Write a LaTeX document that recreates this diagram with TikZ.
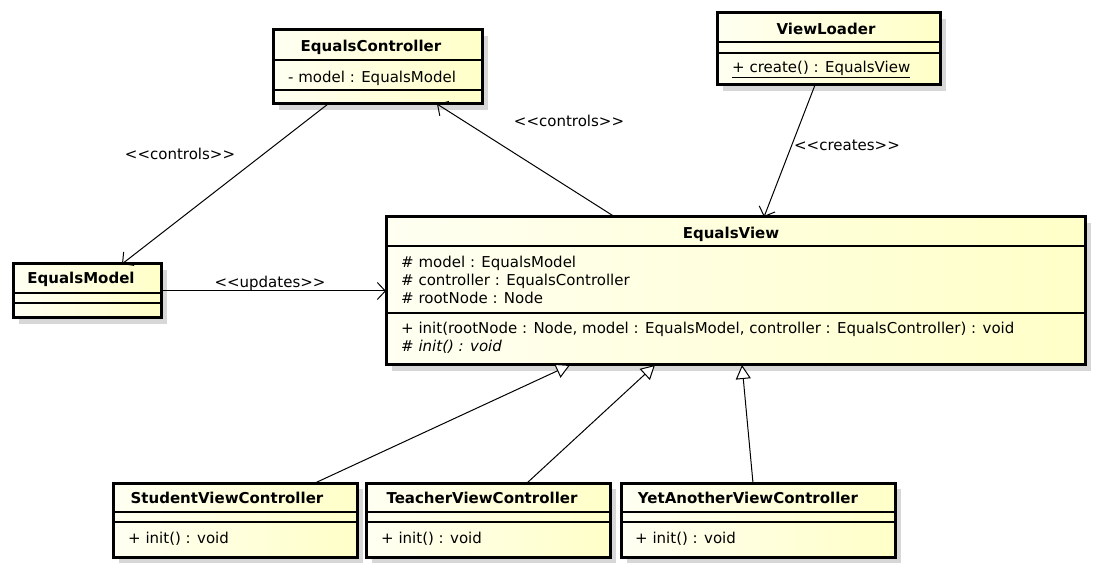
\documentclass[tikz,border=0pt]{standalone}
\usepackage{fontspec}
\newfontfamily\dvs{DejaVu Sans}
\usetikzlibrary{arrows.meta,shadows,calc}
\definecolor{umlyellow}{RGB}{255,255,200}
\definecolor{umllight}{RGB}{255,255,242}
\definecolor{shadowgray}{RGB}{215,215,215}
\begin{document}
\begin{tikzpicture}[x=1pt,y=-1pt,
  cls/.style={draw, line width=3pt, outer sep=0pt, inner sep=0pt, anchor=north west,
    left color=umllight, right color=umlyellow,
    general shadow={fill=shadowgray, shadow xshift=6pt, shadow yshift=-6pt}},
  sep/.style={line width=1.2pt},
  ttl/.style={font=\dvs\fontsize{15}{18}\selectfont\bfseries, inner sep=0pt, anchor=base},
  mem/.style={font=\dvs\fontsize{15}{18}\selectfont, inner sep=0pt, anchor=base west},
  lbl/.style={font=\dvs\fontsize{15}{18}\selectfont, inner sep=0pt, anchor=base},
  dep/.style={line width=1pt, -{Straight Barb[length=8pt, width=17pt]}},
  gen/.style={line width=1pt, -{Triangle[open, length=14pt, width=15pt, fill=white]}}
]
\useasboundingbox (0,0) rectangle (1098,569);

% EqualsController
\node[cls, minimum width=209pt, minimum height=74pt] (ec) at (273,30) {};
\draw[sep] (273,60) -- (482,60);
\draw[sep] (273,90) -- (482,90);
\node[ttl] (ect) at (371,52) {EqualsController};
\node[mem] (eca) at (288,83) {- model : EqualsModel};

% ViewLoader
\node[cls, minimum width=223pt, minimum height=72pt] (vl) at (717,13) {};
\draw[sep] (717,42) -- (940,42);
\draw[sep] (717,53) -- (940,53);
\node[ttl] (vlt) at (826,35) {ViewLoader};
\node[mem] (vlm) at (732,73) {\underline{+ create() : EqualsView}};

% EqualsModel
\node[cls, minimum width=148pt, minimum height=54pt] (em) at (13,264) {};
\draw[sep] (13,293) -- (161,293);
\draw[sep] (13,303) -- (161,303);
\node[ttl] (emt) at (81,284) {EqualsModel};

% EqualsView
\node[cls, minimum width=699pt, minimum height=148pt] (ev) at (386,217) {};
\draw[sep] (386,246) -- (1085,246);
\draw[sep] (386,313) -- (1085,313);
\node[ttl] (evt) at (731,239) {EqualsView};
\node[mem] (eva1) at (401,268) {\# model : EqualsModel};
\node[mem] (eva2) at (401,286) {\# controller : EqualsController};
\node[mem] (eva3) at (401,304) {\# rootNode : Node};
\node[mem] (evm1) at (401,334) {+ init(rootNode : Node, model : EqualsModel, controller : EqualsController) : void};
\node[mem] (evm2) at (401,352) {\# \textit{init() : void}};

% StudentViewController
\node[cls, minimum width=244pt, minimum height=74pt] (sv) at (113,483) {};
\draw[sep] (113,512) -- (357,512);
\draw[sep] (113,522) -- (357,522);
\node[ttl] (svt) at (227,503) {StudentViewController};
\node[mem] (svm) at (128,543) {+ init() : void};

% TeacherViewController
\node[cls, minimum width=244pt, minimum height=74pt] (tv) at (366,483) {};
\draw[sep] (366,512) -- (610,512);
\draw[sep] (366,522) -- (610,522);
\node[ttl] (tvt) at (482,503) {TeacherViewController};
\node[mem] (tvm) at (381,543) {+ init() : void};

% YetAnotherViewController
\node[cls, minimum width=274pt, minimum height=74pt] (yv) at (621,483) {};
\draw[sep] (621,512) -- (895,512);
\draw[sep] (621,522) -- (895,522);
\node[ttl] (yvt) at (748,503) {YetAnotherViewController};
\node[mem] (yvm) at (635,543) {+ init() : void};

% connectors
\draw[dep] ([xshift=55pt]ec.south west) -- ([xshift=109pt]em.north west);
\node[lbl] (l1) at (180,160) {<<controls>>};
\draw[dep] ([xshift=229pt]ev.north west) -- ([xshift=164pt]ec.south west);
\node[lbl] (l2) at (569,127) {<<controls>>};
\draw[dep] ([xshift=98pt]vl.south west) -- ([xshift=378pt]ev.north west);
\node[lbl] (l3) at (847,151) {<<creates>>};
\draw[dep] (em.east) -- (ev.west);
\node[lbl] (l4) at (270,288) {<<updates>>};

\draw[gen] ([xshift=202pt]sv.north west) -- ([xshift=184pt]ev.south west);
\draw[gen] ([xshift=161pt]tv.north west) -- ([xshift=269pt]ev.south west);
\draw[gen] ([xshift=132pt]yv.north west) -- ([xshift=356pt]ev.south west);
\end{tikzpicture}
\end{document}
